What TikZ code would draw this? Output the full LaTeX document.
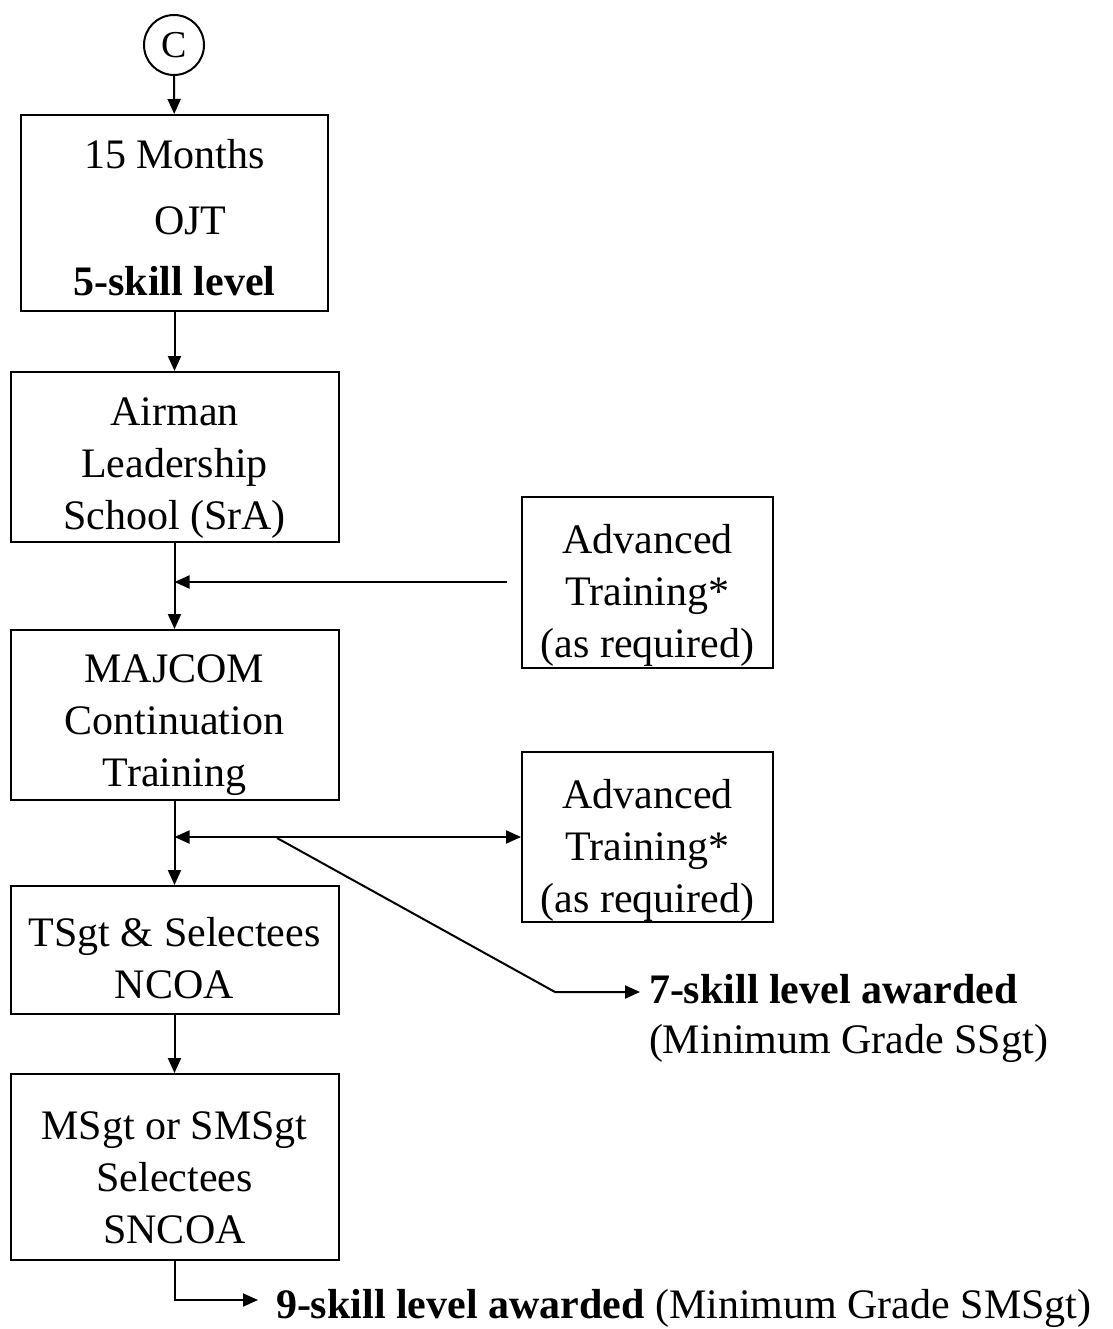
\documentclass[tikz,border=0pt]{standalone}
\usepackage{fontspec}
\setmainfont{Liberation Serif}
\usetikzlibrary{arrows.meta,positioning}
\newcommand\lift[1]{\rule{0pt}{#1}}

\begin{document}
\begin{tikzpicture}[x=1pt,y=-1pt,line width=2pt,
  box/.style={draw,align=center,font=\fontsize{42}{52}\selectfont,minimum width=328pt,inner sep=0pt},
  txt/.style={anchor=base west,inner sep=0pt,font=\fontsize{42}{52}\selectfont},
  arr/.style={-{Triangle[length=15pt,width=13pt]}},
  darr/.style={{Triangle[length=15pt,width=13pt]}-{Triangle[length=15pt,width=13pt]}}]
\useasboundingbox (0,0) rectangle (1112,1329);
\node[draw,circle,minimum size=60pt,inner sep=0pt,font=\fontsize{38}{40}\selectfont](c) at (174,45){C};
\node[box,minimum width=307pt,minimum height=196pt](ojt) at (174.5,213){\lift{38pt}15 Months\\[14pt]\hspace*{32pt}OJT\\[9pt]\textbf{5-skill level}};
\node[box,minimum height=170pt,below=59pt of ojt](als){\lift{49pt}Airman\\Leadership\\School (SrA)};
\node[box,minimum height=170pt,below=86pt of als](mct){\lift{49pt}MAJCOM\\Continuation\\Training};
\node[box,minimum height=128pt,below=84pt of mct](ncoa){\lift{45pt}TSgt \& Selectees\\NCOA};
\node[box,minimum height=186pt,below=58pt of ncoa](sncoa){\lift{49pt}MSgt or SMSgt\\Selectees\\SNCOA};
\node[box,minimum width=251pt,minimum height=171pt](adv1) at (647.5,582.5){\lift{54pt}Advanced\\Training*\\(as required)};
\node[box,minimum width=251pt,minimum height=170pt](adv2) at (647.5,837){\lift{56pt}Advanced\\Training*\\(as required)};
\node[txt](sev) at (648,1003){\textbf{7-skill level awarded}};
\node[txt](sevmin) at (648,1053){(Minimum Grade SSgt)};
\node[txt](nine) at (275,1318){\textbf{9-skill level awarded} (Minimum Grade SMSgt)};
\coordinate (a1) at (507,582);
\coordinate (j1) at (als.south |- a1);
\coordinate (j2) at (mct.south |- adv2.west);
\coordinate (k) at (277,838);
\coordinate (k2) at (555,992);
\coordinate (t7) at (640,992);
\coordinate (t9) at (258,1300);
\draw[arr](c)--(ojt);
\draw[arr](ojt)--(als);
\draw[arr](als)--(mct);
\draw[arr](mct)--(ncoa);
\draw[arr](ncoa)--(sncoa);
\draw[arr](a1)--(j1);
\draw[darr](j2)--(adv2.west);
\draw[arr](k)--(k2)--(t7);
\draw[arr](sncoa.south)|-(t9);
\end{tikzpicture}
\end{document}
